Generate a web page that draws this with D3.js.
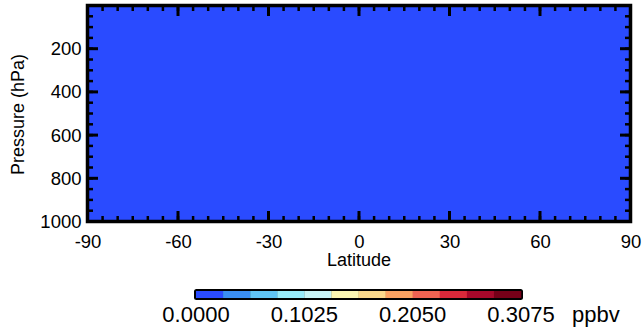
<!DOCTYPE html>
<html>
<head>
<meta charset="utf-8">
<script src="https://cdn.jsdelivr.net/npm/d3@7"></script>
<style>
  html, body { margin: 0; padding: 0; background: #fff; }
  svg { display: block; }
  text { font-family: "Liberation Sans", Arial, Helvetica, sans-serif; fill: #000; }
</style>
</head>
<body>
<svg id="chart" width="644" height="333"></svg>
<script>
// ---- data ----
const latitudeEdges = [-90, -60, -30, 0, 30, 60, 90];
const pressureEdges = [0, 200, 400, 600, 800, 1000];
// field values (ppbv), rows = pressure bands, cols = latitude bands
const fieldValues = [
  [0, 0, 0, 0, 0, 0],
  [0, 0, 0, 0, 0, 0],
  [0, 0, 0, 0, 0, 0],
  [0, 0, 0, 0, 0, 0],
  [0, 0, 0, 0, 0, 0]
];
const latTicks = [-90, -60, -30, 0, 30, 60, 90];
const pressureTicks = [200, 400, 600, 800, 1000];
const colorLevels = [0.0000, 0.0256, 0.0513, 0.0769, 0.1025, 0.1281, 0.1538,
                     0.1794, 0.2050, 0.2306, 0.2563, 0.2819, 0.3075];
const colorList = ["#2a4bff", "#3a8ef2", "#60c4f4", "#98ebfa", "#c8f4f6", "#fbf6b2",
                   "#fbd98c", "#fba262", "#ef6352", "#d7293a", "#a6082a", "#760018"];
const colorbarTicks = [0.0000, 0.1025, 0.2050, 0.3075];
const colorbarTickLabels = ["0.0000", "0.1025", "0.2050", "0.3075"];
const colorbarUnit = "ppbv";

// ---- layout ----
const svg = d3.select("#chart");
const plot = { left: 87.5, right: 630.5, top: 5.5, bottom: 221.5 };

const x = d3.scaleLinear().domain([-90, 90]).range([plot.left, plot.right]);
const y = d3.scaleLinear().domain([0, 1000]).range([plot.top, plot.bottom]);
const color = d3.scaleThreshold()
  .domain(colorLevels.slice(1, -1))
  .range(colorList);

// cells
const cells = [];
fieldValues.forEach((row, i) => row.forEach((v, j) => {
  cells.push({ lat0: latitudeEdges[j], lat1: latitudeEdges[j + 1],
               p0: pressureEdges[i], p1: pressureEdges[i + 1], v });
}));
svg.append("g").selectAll("rect").data(cells).join("rect")
  .attr("x", d => x(d.lat0))
  .attr("y", d => y(d.p0))
  .attr("width", d => x(d.lat1) - x(d.lat0) + 0.5)
  .attr("height", d => y(d.p1) - y(d.p0) + 0.5)
  .attr("fill", d => color(d.v))
  .attr("shape-rendering", "crispEdges");

const xMinor = d3.range(-90, 91, 5);
const yMinor = d3.range(0, 1001, 50);

// tick marks (drawn inward on all four sides)
const tickG = svg.append("g").attr("stroke", "#000");
function vTicks(vals, y0, len, w) {
  tickG.append("g").attr("stroke-width", w).selectAll("line").data(vals).join("line")
    .attr("x1", d => x(d)).attr("x2", d => x(d))
    .attr("y1", y0).attr("y2", y0 + len);
}
function hTicks(vals, x0, len, w) {
  tickG.append("g").attr("stroke-width", w).selectAll("line").data(vals).join("line")
    .attr("y1", d => y(d)).attr("y2", d => y(d))
    .attr("x1", x0).attr("x2", x0 + len);
}
vTicks(xMinor, plot.bottom, -5.5, 2.5);
vTicks(latTicks, plot.bottom, -10.5, 3);
vTicks(xMinor, plot.top, 5.5, 2.5);
vTicks(latTicks, plot.top, 10.5, 3);
hTicks(yMinor, plot.left, 5.5, 2.5);
hTicks(pressureTicks, plot.left, 10.5, 3);
hTicks(yMinor, plot.right, -5.5, 2.5);
hTicks(pressureTicks, plot.right, -10.5, 3);

// axis labels via d3 axes
svg.append("g").attr("transform", `translate(0,${plot.bottom})`)
  .call(d3.axisBottom(x).tickValues(latTicks).tickSize(0).tickPadding(13).tickFormat(d => String(d)))
  .call(g => { g.select(".domain").remove(); g.selectAll(".tick line").remove();
               g.selectAll(".tick text").style("font-size", "18.5px").attr("fill", "#000"); });
svg.append("g").attr("transform", `translate(${plot.left},0)`)
  .call(d3.axisLeft(y).tickValues(pressureTicks).tickSize(0).tickPadding(6).tickFormat(d => String(d)))
  .call(g => { g.select(".domain").remove(); g.selectAll(".tick line").remove();
               g.selectAll(".tick text").style("font-size", "18.5px").attr("fill", "#000"); });

// frame
svg.append("rect")
  .attr("x", plot.left).attr("y", plot.top)
  .attr("width", plot.right - plot.left).attr("height", plot.bottom - plot.top)
  .attr("fill", "none").attr("stroke", "#000").attr("stroke-width", 3.5);

// axis titles
svg.append("text")
  .attr("x", (plot.left + plot.right) / 2).attr("y", 266)
  .attr("text-anchor", "middle").style("font-size", "18px")
  .text("Latitude");
svg.append("text")
  .attr("transform", `translate(24,${(plot.top + plot.bottom) / 2 + 1}) rotate(-90)`)
  .attr("text-anchor", "middle").style("font-size", "18px")
  .text("Pressure (hPa)");

// ---- colorbar ----
const cb = d3.scaleLinear().domain([colorLevels[0], colorLevels[colorLevels.length - 1]]).range([196, 521]);
const cbTop = 291, cbH = 7;
const bands = colorList.map((c, i) => ({ a: colorLevels[i], b: colorLevels[i + 1], c }));
svg.append("rect")
  .attr("x", cb.range()[0] - 2).attr("y", cbTop - 2)
  .attr("width", cb.range()[1] - cb.range()[0] + 4).attr("height", cbH + 4)
  .attr("rx", 2.5)
  .attr("fill", "#000");
svg.append("g").selectAll("rect").data(bands).join("rect")
  .attr("x", d => cb(d.a)).attr("y", cbTop)
  .attr("width", d => cb(d.b) - cb(d.a) + 0.3).attr("height", cbH)
  .attr("fill", d => d.c);
svg.append("g").selectAll("text").data(colorbarTicks).join("text")
  .attr("x", d => cb(d)).attr("y", 321.5)
  .attr("text-anchor", "middle").style("font-size", "22px")
  .text((d, i) => colorbarTickLabels[i]);
svg.append("text")
  .attr("x", 572).attr("y", 321.5).style("font-size", "22px")
  .text(colorbarUnit);
</script>
</body>
</html>
